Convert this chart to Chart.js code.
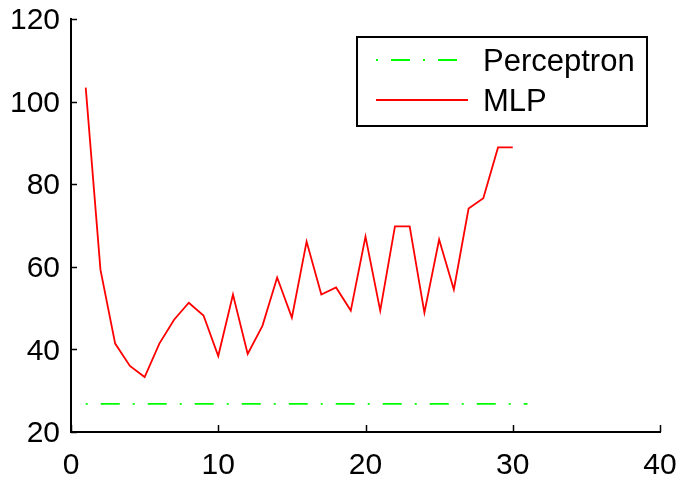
<!DOCTYPE html>
<html>
<head>
<meta charset="utf-8">
<script src="https://cdn.jsdelivr.net/npm/chart.js@4"></script>
<style>
  html, body { margin: 0; padding: 0; background: #fff; }
  #wrap { width: 680px; height: 482px; }
</style>
</head>
<body>
<div id="wrap"><canvas id="errChart" width="680" height="482"></canvas></div>
<script>
// epochs and error per model
const mlpEpochs = [1,2,3,4,5,6,7,8,9,10,11,12,13,14,15,16,17,18,19,20,21,22,23,24,25,26,27,28,29,30];
const mlpError = [103.4,59.3,41.4,36.0,33.3,41.4,47.2,51.3,48.2,38.4,53.3,38.9,45.7,57.4,47.7,66.1,53.3,55.0,49.4,67.3,49.4,69.8,69.8,48.9,66.6,54.5,74.1,76.6,88.9,88.9];
const perceptronEpochs = [1, 31];
const perceptronError = [26.8, 26.8];
const xTicks = [0, 10, 20, 30, 40];
const yTicks = [20, 40, 60, 80, 100, 120];

const FONT = 'Liberation Sans, Arial, sans-serif';

// matlab-style ticks pointing into the plot
const inwardTicks = {
  id: 'inwardTicks',
  afterDraw(chart) {
    const { ctx, scales: { x, y } } = chart;
    ctx.save();
    ctx.strokeStyle = '#000';
    ctx.lineWidth = 1.5;
    xTicks.forEach(v => {
      const px = Math.round(x.getPixelForValue(v)) + 0.5;
      ctx.beginPath();
      ctx.moveTo(px, y.bottom);
      ctx.lineTo(px, y.bottom - 7);
      ctx.stroke();
    });
    yTicks.forEach(v => {
      const py = Math.round(y.getPixelForValue(v)) + 0.5;
      ctx.beginPath();
      ctx.moveTo(x.left, py);
      ctx.lineTo(x.left + 6, py);
      ctx.stroke();
    });
    ctx.restore();
  }
};

// boxed legend in the upper right
const boxLegend = {
  id: 'boxLegend',
  afterDraw(chart) {
    const { ctx } = chart;
    const bx = 357, by = 37, bw = 290, bh = 89;
    ctx.save();
    ctx.fillStyle = '#fff';
    ctx.fillRect(bx, by, bw, bh);
    ctx.strokeStyle = '#000';
    ctx.lineWidth = 2;
    ctx.strokeRect(bx, by, bw, bh);
    const rows = [60, 100];
    chart.data.datasets.forEach((ds, i) => {
      const ry = rows[i];
      ctx.strokeStyle = ds.borderColor;
      ctx.lineWidth = ds.borderWidth;
      ctx.setLineDash(ds.borderDash || []);
      ctx.beginPath();
      ctx.moveTo(376, ry);
      ctx.lineTo(468, ry);
      ctx.stroke();
      ctx.setLineDash([]);
      ctx.fillStyle = '#000';
      ctx.font = '31px ' + FONT;
      ctx.textBaseline = 'middle';
      ctx.textAlign = 'left';
      ctx.fillText(ds.label, 483, ry + 2);
    });
    ctx.restore();
  }
};

new Chart(document.getElementById('errChart'), {
  type: 'line',
  data: {
    datasets: [
      {
        label: 'Perceptron',
        data: perceptronEpochs.map((e, i) => ({ x: e, y: perceptronError[i] })),
        borderColor: '#00ff00',
        borderWidth: 1.8,
        borderDash: [2, 13, 19, 13],
        pointRadius: 0,
        tension: 0,
      },
      {
        label: 'MLP',
        data: mlpEpochs.map((e, i) => ({ x: e, y: mlpError[i] })),
        borderColor: '#ff0000',
        borderWidth: 1.8,
        pointRadius: 0,
        tension: 0,
      },
    ],
  },
  options: {
    responsive: false,
    animation: false,
    devicePixelRatio: 1,
    layout: { padding: { top: 19, right: 0, left: 0, bottom: 0 } },
    plugins: { legend: { display: false }, tooltip: { enabled: false } },
    scales: {
      x: {
        type: 'linear', min: 0, max: 40,
        afterBuildTicks: s => { s.ticks = xTicks.map(v => ({ value: v })); },
        afterFit: s => { s.height = 50; s.paddingRight = 20; s.paddingLeft = 0; },
        ticks: { color: '#000', font: { family: FONT, size: 30 }, padding: 16, maxRotation: 0 },
        grid: { drawOnChartArea: false, drawTicks: false },
        border: { color: '#000', width: 2 },
      },
      y: {
        min: 20, max: 120,
        afterBuildTicks: s => { s.ticks = yTicks.map(v => ({ value: v })); },
        afterFit: s => { s.width = 71; s.paddingTop = 0; s.paddingBottom = 0; },
        ticks: { color: '#000', font: { family: FONT, size: 30 }, padding: 11, labelOffset: 2 },
        grid: { drawOnChartArea: false, drawTicks: false },
        border: { color: '#000', width: 2 },
      },
    },
  },
  plugins: [inwardTicks, boxLegend],
});
</script>
</body>
</html>
